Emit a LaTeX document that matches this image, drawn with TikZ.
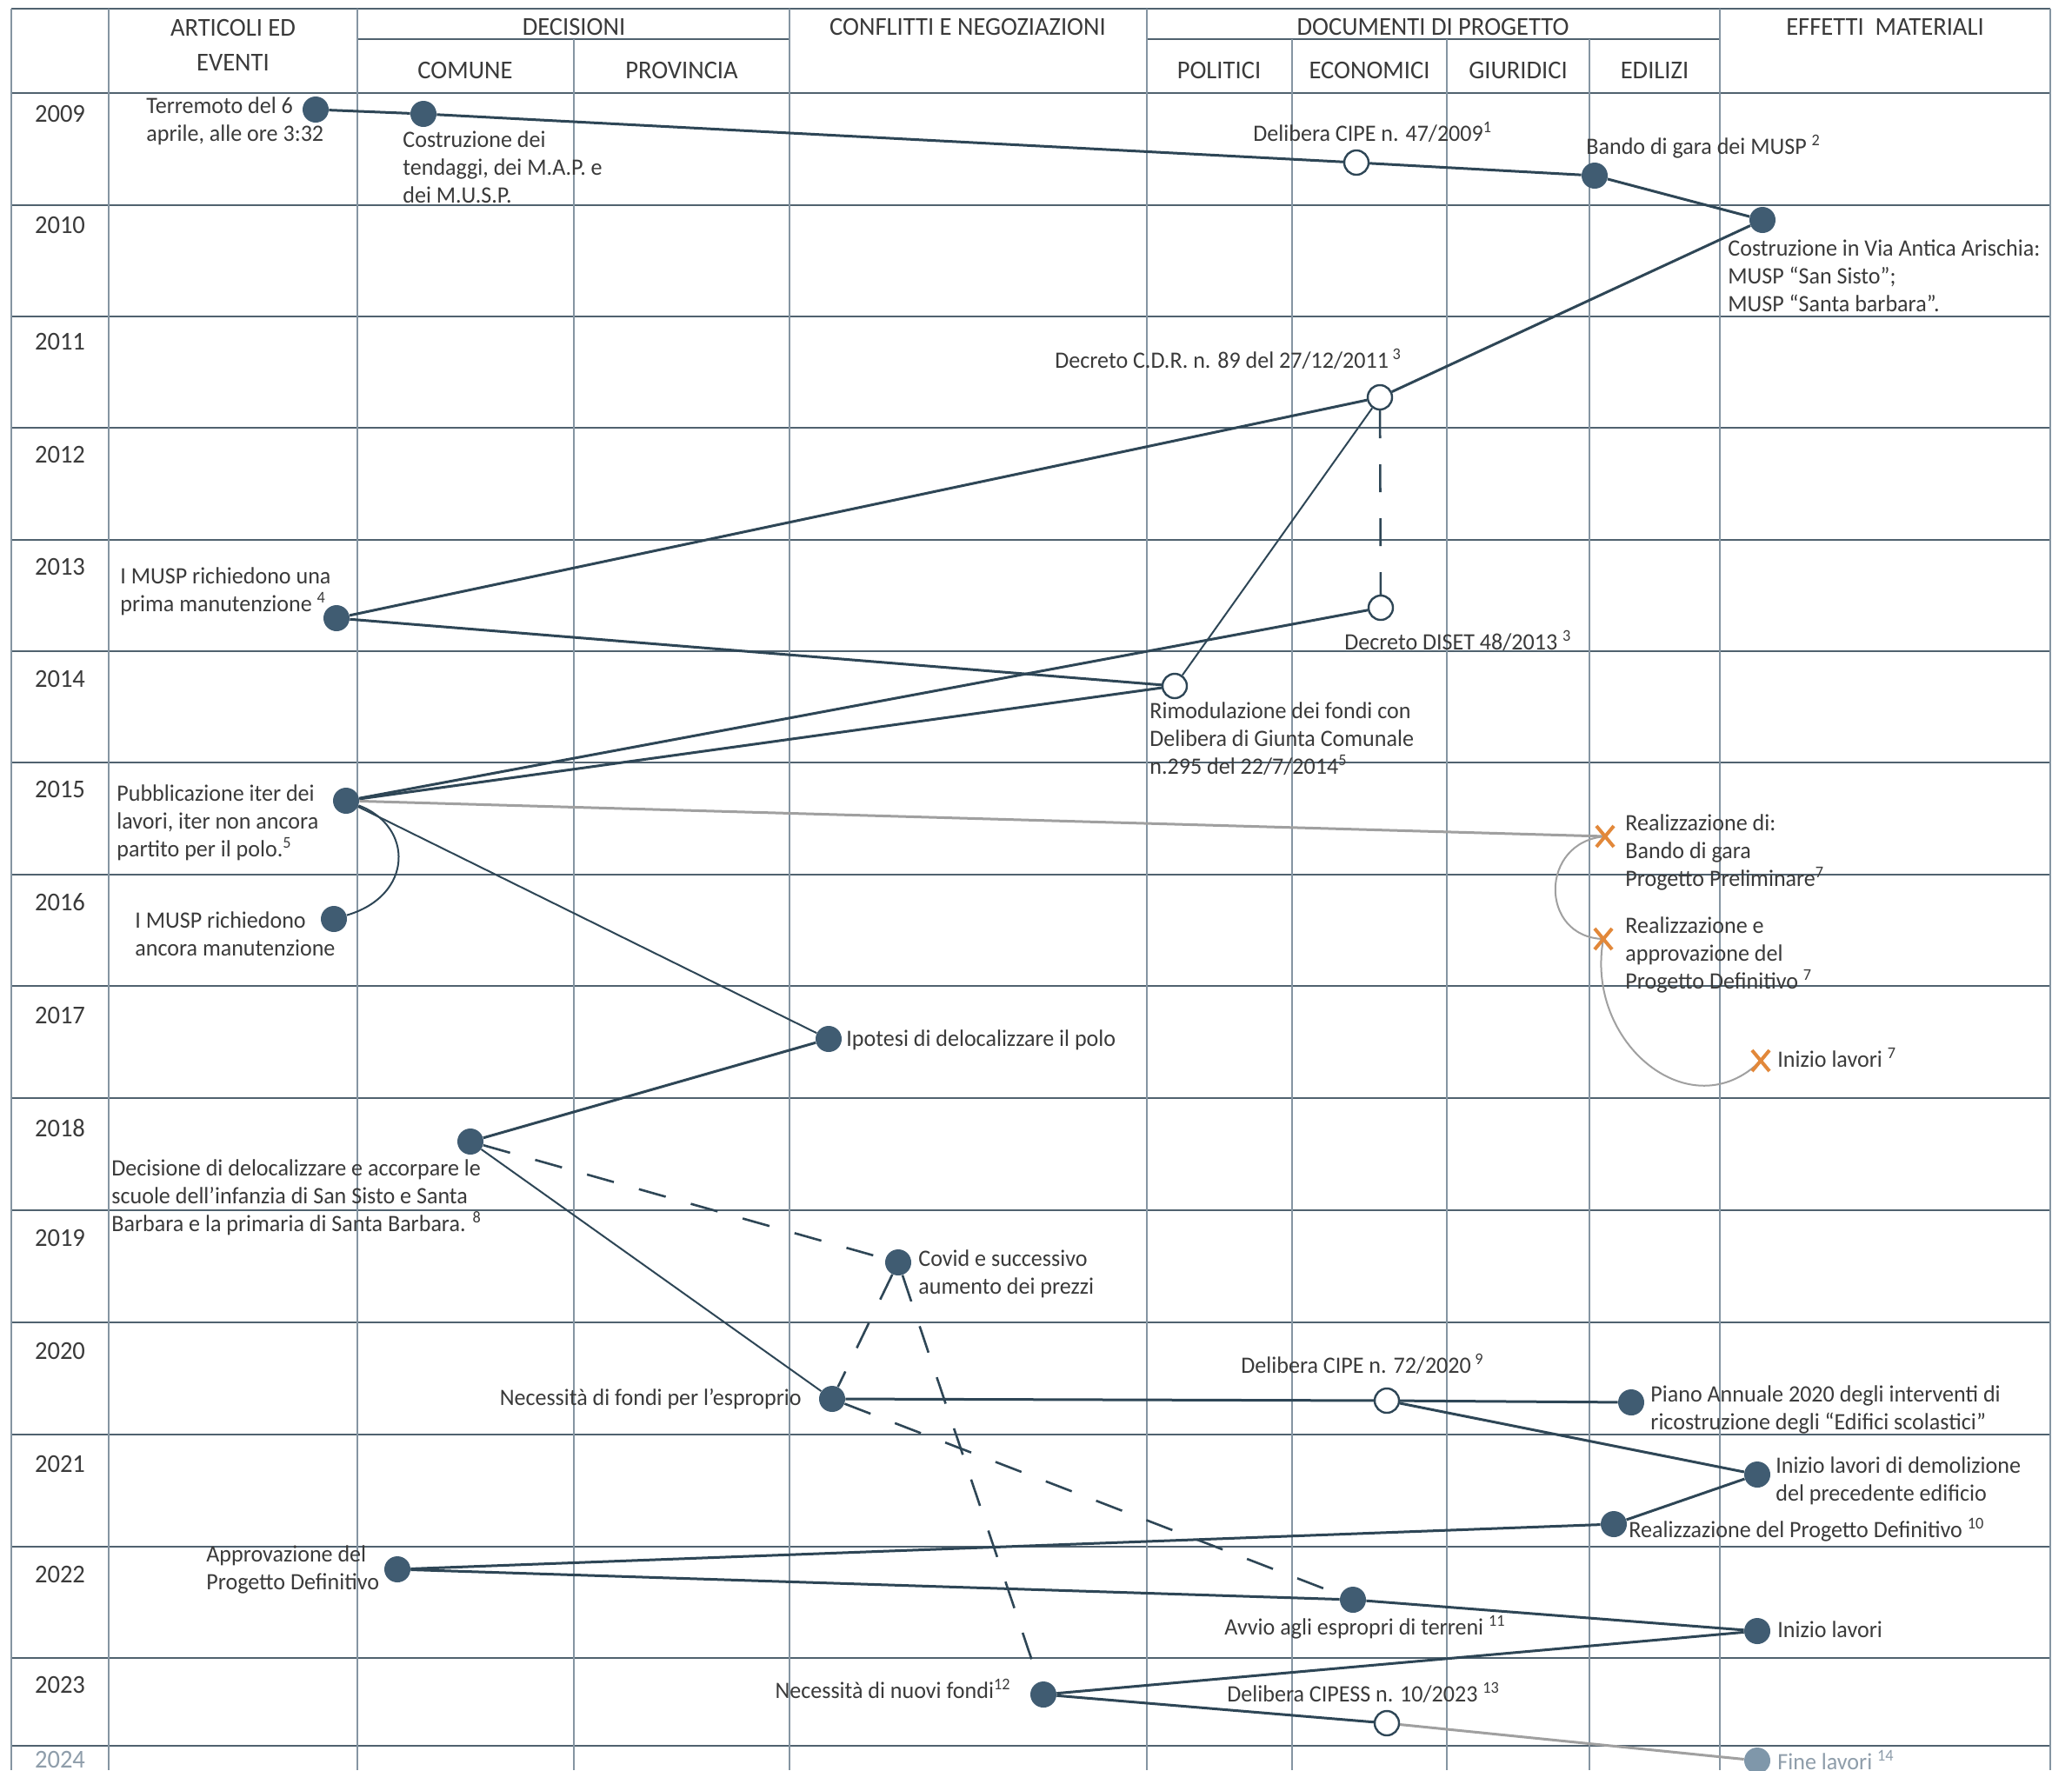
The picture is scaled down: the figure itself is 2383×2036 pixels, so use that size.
\documentclass[tikz,border=0pt]{standalone}
\usepackage{fontspec}
\setmainfont{Carlito}[FakeStretch=0.965]
\usetikzlibrary{shapes.misc}
\definecolor{gridh}{HTML}{50626F}
\definecolor{gridv}{HTML}{8595A2}
\definecolor{linec}{HTML}{2E4656}
\definecolor{dotc}{HTML}{405C72}
\definecolor{txtc}{HTML}{3A3A3A}
\definecolor{greyl}{HTML}{A0A0A0}
\definecolor{orx}{HTML}{E2883A}
\definecolor{faded}{HTML}{8E9DAA}
\definecolor{fadedot}{HTML}{7F97AA}
\newcommand\lblf{\fontsize{13.5}{16}\selectfont}
\newcommand\hdrf{\fontsize{14.8}{16}\selectfont}
\pgfdeclarelayer{gridlayer}
\pgfdeclarelayer{background}
\pgfsetlayers{gridlayer,background,main}
\begin{document}
\begin{tikzpicture}[x=0.5pt,y=-0.5pt,
  hline/.style={draw=gridh,line width=0.9pt},
  vline/.style={draw=gridv,line width=0.6pt},
  dot/.style={circle,fill=dotc,inner sep=0pt,minimum size=15pt},
  fdot/.style={circle,fill=fadedot,inner sep=0pt,minimum size=15pt},
  odot/.style={circle,draw=linec,line width=1.2pt,fill=white,inner sep=0pt,minimum size=14pt},
  xm/.style={cross out,draw=orx,line width=2pt,inner sep=0pt,minimum width=8pt,minimum height=10pt},
  lbl/.style={anchor=north west,inner sep=0pt,align=left,font=\lblf,text=txtc,execute at begin node=\strut},
  lblr/.style={lbl,anchor=north east,align=right},
  hdr/.style={anchor=north,inner sep=0pt,align=center,font=\hdrf,text=txtc,execute at begin node=\strut},
  yr/.style={anchor=base,inner sep=0pt,font=\hdrf,text=txtc},
  conn/.style={draw=linec,line width=1.5pt},
  connthin/.style={draw=linec,line width=1pt},
  dashc/.style={draw=linec,line width=1.3pt,dash pattern=on 16pt off 15pt},
  greyc/.style={draw=greyl,line width=1.5pt},
  greythin/.style={draw=greyl,line width=1pt}]
\useasboundingbox (0,0) rectangle (2383,2036);
\begin{pgfonlayer}{gridlayer}
\fill[white] (0,0) rectangle (2383,2036);
\foreach \y in {10,107,236,364,492,621,749,877,1006,1134,1263,1392,1521,1650,1779,1907,2008}
  \draw[hline] (13,\y) -- (2358,\y);
\draw[hline] (411,45) -- (908,45);
\draw[hline] (1319,45) -- (1978,45);
\foreach \x in {13,125,411,908,1319,1978,2358}
  \draw[vline] (\x,10) -- (\x,2036);
\foreach \x in {660,1486,1664,1828}
  \draw[vline] (\x,45) -- (\x,2036);
\end{pgfonlayer}

% headers
\node[hdr] (hArt) at (268,44.5-22.4) {ARTICOLI ED\\[4pt]EVENTI};
\node[hdr] (hDec) at (660,40-22.4) {DECISIONI};
\node[hdr] (hCom) at (535,90-22.4) {COMUNE};
\node[hdr] (hPro) at (784,90-22.4) {PROVINCIA};
\node[hdr] (hCon) at (1113,40-22.4) {CONFLITTI E NEGOZIAZIONI};
\node[hdr] (hDoc) at (1648,40-22.4) {DOCUMENTI DI PROGETTO};
\node[hdr] (hPol) at (1402,90-22.4) {POLITICI};
\node[hdr] (hEco) at (1575,90-22.4) {ECONOMICI};
\node[hdr] (hGiu) at (1746,90-22.4) {GIURIDICI};
\node[hdr] (hEdi) at (1903,90-22.4) {EDILIZI};
\node[hdr] (hEff) at (2168,40-22.4) {EFFETTI\ \ MATERIALI};

% years
\node[yr] (y09) at (69,140) {2009};
\node[yr] (y10) at (69,268) {2010};
\node[yr] (y11) at (69,402) {2011};
\node[yr] (y12) at (69,532) {2012};
\node[yr] (y13) at (69,661) {2013};
\node[yr] (y14) at (69,790) {2014};
\node[yr] (y15) at (69,917) {2015};
\node[yr] (y16) at (69,1047) {2016};
\node[yr] (y17) at (69,1177) {2017};
\node[yr] (y18) at (69,1307) {2018};
\node[yr] (y19) at (69,1433) {2019};
\node[yr] (y20) at (69,1563) {2020};
\node[yr] (y21) at (69,1693) {2021};
\node[yr] (y22) at (69,1820) {2022};
\node[yr] (y23) at (69,1947) {2023};
\node[yr,text=faded] (y24) at (69,2033) {2024};

% event nodes
\node[dot] (n1) at (363,126) {};
\node[dot] (n2) at (487,131) {};
\node[odot] (n3) at (1560,187) {};
\node[dot] (n4) at (1834,202) {};
\node[dot] (n5) at (2027,253) {};
\node[odot] (n6) at (1587,457) {};
\node[dot] (n7) at (387,711) {};
\node[odot] (n8) at (1588,699) {};
\node[odot] (n9) at (1351,789) {};
\node[dot] (n10) at (398,921) {};
\node[dot] (n11) at (384,1057) {};
\node[dot] (n12) at (953,1195) {};
\node[xm] (x1) at (1846,962) {};
\node[xm] (x2) at (1844,1080) {};
\node[xm] (x3) at (2025,1220) {};
\node[dot] (n16) at (541,1313) {};
\node[dot] (n17) at (1033,1452) {};
\node[dot] (n18) at (957,1609) {};
\node[odot] (n19) at (1595,1611) {};
\node[dot] (n20) at (1876,1613) {};
\node[dot] (n21) at (2021,1696) {};
\node[dot] (n22) at (1856,1753) {};
\node[dot] (n23) at (457,1805) {};
\node[dot] (n24) at (1556,1840) {};
\node[dot] (n25) at (2021,1876) {};
\node[dot] (n26) at (1200,1949) {};
\node[odot] (n27) at (1595,1982) {};
\node[fdot] (n28) at (2021,2025) {};

% labels (multi-line ones offset by 3px)
\node[lbl] (l1) at (168,131-19.4) {Terremoto del 6\\aprile, alle ore 3:32};
\node[lbl] (l2) at (463,170-19.4) {Costruzione dei\\tendaggi, dei M.A.P. e\\dei M.U.S.P.};
\node[lbl] (l3) at (1441,162-22.4) {Delibera CIPE n. 47/2009\textsuperscript{1}};
\node[lbl] (l4) at (1824,177-22.4) {Bando di gara dei MUSP \textsuperscript{2}};
\node[lbl] (l5) at (1987,295-19.4) {Costruzione in Via Antica Arischia:\\MUSP “San Sisto”;\\MUSP “Santa barbara”.};
\node[lbl] (l6) at (1213,423-22.4) {Decreto C.D.R. n. 89 del 27/12/2011\,\textsuperscript{3}};
\node[lbl] (l7) at (138,672-19.4) {I MUSP richiedono una\\prima manutenzione \textsuperscript{4}};
\node[lbl] (l8) at (1546,747-22.4) {Decreto DISET 48/2013 \textsuperscript{3}};
\node[lbl] (l9) at (1322,827-19.4) {Rimodulazione dei fondi con\\Delibera di Giunta Comunale\\n.295 del 22/7/2014\textsuperscript{5}};
\node[lbl] (l10) at (134,922-19.4) {Pubblicazione iter dei\\lavori, iter non ancora\\partito per il polo.\textsuperscript{5}};
\node[lbl] (l11) at (155,1068-19.4) {I MUSP richiedono\\ancora manutenzione};
\node[lbl] (l12) at (973,1203-22.4) {Ipotesi di delocalizzare il polo};
\node[lbl] (l13) at (1869,956-19.4) {Realizzazione di:\\Bando di gara\\Progetto Preliminare\textsuperscript{7}};
\node[lbl] (l14) at (1869,1074-19.4) {Realizzazione e\\approvazione del\\Progetto Definitivo \textsuperscript{7}};
\node[lbl] (l15) at (2044,1227-22.4) {Inizio lavori \textsuperscript{7}};
\node[lbl] (l16) at (128,1353-19.4) {Decisione di delocalizzare e accorpare le\\scuole dell’infanzia di San Sisto e Santa\\Barbara e la primaria di Santa Barbara. \textsuperscript{8}};
\node[lbl] (l17) at (1056,1457-19.4) {Covid e successivo\\aumento dei prezzi};
\node[lblr] (l18) at (922,1616-22.4) {Necessità di fondi per l’esproprio};
\node[lbl] (l19) at (1427,1579-22.4) {Delibera CIPE n. 72/2020\,\textsuperscript{9}};
\node[lbl] (l20) at (1898,1613-19.4) {Piano Annuale 2020 degli interventi di\\ricostruzione degli “Edifici scolastici”};
\node[lbl] (l21) at (2042,1695-19.4) {Inizio lavori di demolizione\\del precedente edificio};
\node[lbl] (l22) at (1873,1768-22.4) {Realizzazione del Progetto Definitivo \textsuperscript{10}};
\node[lbl] (l23) at (237,1797-19.4) {Approvazione del\\Progetto Definitivo};
\node[lbl] (l24) at (1408,1880-22.4) {Avvio agli espropri di terreni \textsuperscript{11}};
\node[lbl] (l25) at (2044,1883-22.4) {Inizio lavori};
\node[lblr] (l26) at (1163,1953-22.4) {Necessità di nuovi fondi\textsuperscript{12}};
\node[lbl] (l27) at (1411,1957-22.4) {Delibera CIPESS n. 10/2023 \textsuperscript{13}};
\node[lbl,text=faded] (l28) at (2044,2035-22.4) {Fine lavori \textsuperscript{14}};

% connectors
\begin{pgfonlayer}{background}
\draw[conn] (n1) -- (n2);
\draw[conn] (n2) -- (n3);
\draw[conn] (n3) -- (n4);
\draw[conn] (n4) -- (n5);
\draw[conn] (n5) -- (n6);
\draw[conn] (n6) -- (n7);
\draw[connthin] (n6) -- (n9);
\draw[dashc] (n6) -- (n8);
\draw[conn] (n7) -- (n9);
\draw[conn] (n9) -- (n10);
\draw[conn] (n8) -- (n10);
\draw[greyc] (n10) -- (x1.center);
\draw[connthin] (n10) .. controls (476,950) and (476,1030) .. (n11);
\draw[connthin] (n10) -- (n12);
\draw[greythin] (x1.center) .. controls (1770,968) and (1770,1078) .. (x2.center);
\draw[greythin] (x2.center) .. controls (1822,1200) and (1945,1300) .. (x3.center);
\draw[conn] (n12) -- (n16);
\draw[connthin] (n16) -- (n18);
\draw[dashc] (n16) -- (n17);
\draw[dashc] (n17) -- (n18);
\draw[dashc] (n17) -- (n26);
\draw[dashc] (n18) -- (n24);
\draw[conn] (n18) -- (n19);
\draw[conn] (n19) -- (n20);
\draw[conn] (n19) -- (n21);
\draw[conn] (n21) -- (n22);
\draw[conn] (n22) -- (n23);
\draw[conn] (n23) -- (n24);
\draw[conn] (n24) -- (n25);
\draw[conn] (n25) -- (n26);
\draw[conn] (n26) -- (n27);
\draw[greyc] (n27) -- (n28);
\end{pgfonlayer}
\end{tikzpicture}
\end{document}
